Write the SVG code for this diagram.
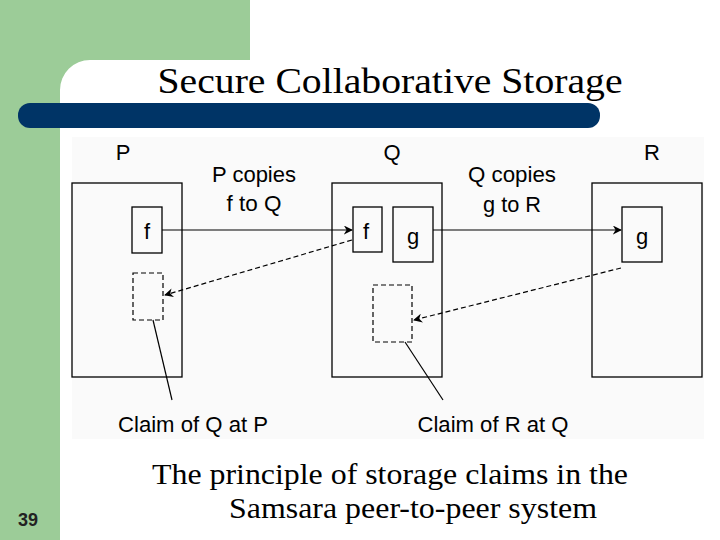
<svg xmlns="http://www.w3.org/2000/svg" width="720" height="540" viewBox="0 0 720 540">
<style>
.box{fill:none;stroke:#000;stroke-width:1.3}
.dash{fill:none;stroke:#000;stroke-width:1.2;stroke-dasharray:5,3}
.s{font-family:"Liberation Sans",Arial,sans-serif;font-size:22px;fill:#000;text-anchor:middle}
.serif{font-family:"Liberation Serif","Times New Roman",serif;fill:#000;text-anchor:middle}
</style>
<defs>
<marker id="ah" viewBox="0 0 10 10" refX="9" refY="5" markerWidth="9" markerHeight="9" orient="auto" markerUnits="userSpaceOnUse"><path d="M0,0 L10,5 L0,10 L3,5 Z" fill="#000"/></marker>
</defs>
<rect width="720" height="540" fill="#fff"/>
<path d="M0,0 H250 V60 H90 A30,30 0 0 0 60,90 V540 H0 Z" fill="#9ccc98"/>
<rect x="18" y="103" width="582" height="25" rx="12" fill="#003466"/>
<text class="serif" x="390" y="93" font-size="36" textLength="465" lengthAdjust="spacingAndGlyphs">Secure Collaborative Storage</text>
<rect x="72" y="137" width="632" height="302" fill="#fafafa"/>
<g id="P"><rect class="box" x="72" y="183" width="110" height="194"/><text class="s" x="123" y="160">P</text>
<rect class="box" x="132" y="207" width="30" height="46"/><text class="s" x="147" y="239">f</text>
<rect class="dash" x="133" y="273" width="30" height="47"/></g>
<g id="Q"><rect class="box" x="332" y="183" width="110" height="194"/><text class="s" x="392" y="160">Q</text>
<rect class="box" x="353" y="207" width="29" height="45"/><text class="s" x="366" y="239">f</text>
<rect class="box" x="393" y="207" width="40" height="55"/><text class="s" x="413" y="244">g</text>
<rect class="dash" x="373" y="285" width="39" height="57"/></g>
<g id="R"><rect class="box" x="592" y="183" width="110" height="194"/><text class="s" x="652" y="160">R</text>
<rect class="box" x="622" y="207" width="40" height="55"/><text class="s" x="642" y="244">g</text></g>
<g id="labels">
<text class="s" x="254" y="182" textLength="84" lengthAdjust="spacingAndGlyphs">P copies</text><text class="s" x="254" y="211" textLength="55" lengthAdjust="spacingAndGlyphs">f to Q</text>
<text class="s" x="512" y="182" textLength="88" lengthAdjust="spacingAndGlyphs">Q copies</text><text class="s" x="512" y="212" textLength="58" lengthAdjust="spacingAndGlyphs">g to R</text>
<text class="s" x="193" y="432" textLength="150" lengthAdjust="spacingAndGlyphs">Claim of Q at P</text><text class="s" x="493" y="432" textLength="151" lengthAdjust="spacingAndGlyphs">Claim of R at Q</text>
</g>
<g id="connectors" stroke="#000" stroke-width="1.2" fill="none">
<line x1="162" y1="230" x2="352" y2="230" marker-end="url(#ah)"/>
<line x1="433" y1="230" x2="621" y2="230" marker-end="url(#ah)"/>
<line x1="352" y1="240" x2="165" y2="295" stroke-dasharray="5,3" marker-end="url(#ah)"/>
<line x1="621" y1="268" x2="414" y2="320" stroke-dasharray="5,3" marker-end="url(#ah)"/>
<line x1="153" y1="320" x2="172" y2="400"/>
<line x1="405" y1="342" x2="443" y2="400"/>
</g>
<text class="serif" x="390" y="484" font-size="30" textLength="476" lengthAdjust="spacingAndGlyphs">The principle of storage claims in the</text>
<text class="serif" x="413" y="518" font-size="30" textLength="368" lengthAdjust="spacingAndGlyphs">Samsara peer-to-peer system</text>
<text x="28" y="526" font-family="Liberation Sans,Arial,sans-serif" font-size="18" font-weight="bold" fill="#222" text-anchor="middle">39</text>
</svg>
